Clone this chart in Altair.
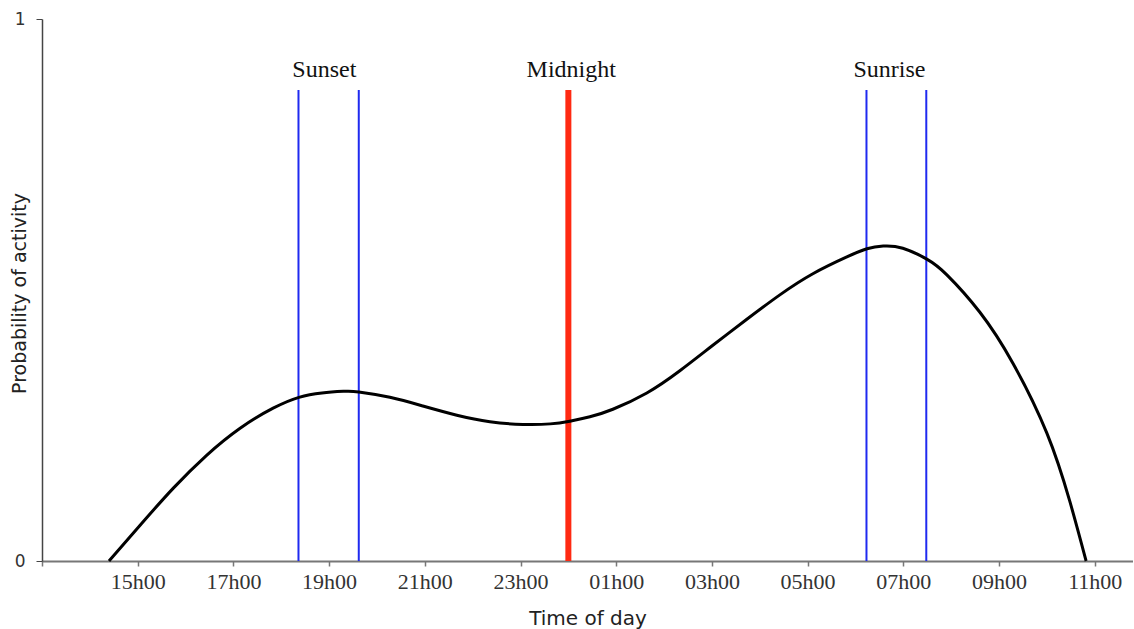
import altair as alt
import pandas as pd

# Activity curve (hours; values after midnight are 24+)
curve_hours = [14.40, 15.05, 15.74, 16.44, 17.14, 17.83, 18.37, 18.85, 19.30, 19.62,
               20.27, 20.96, 21.67, 22.36, 23.05, 23.62, 24.03, 24.45, 24.93, 25.64,
               26.33, 27.02, 27.73, 28.42, 29.11, 29.82, 30.24, 30.58, 30.99, 31.49,
               31.91, 32.60, 33.29, 34.00, 34.48, 34.82]
curve_prob = [0.000, 0.066, 0.134, 0.195, 0.245, 0.282, 0.302, 0.310, 0.313, 0.312,
              0.302, 0.286, 0.269, 0.257, 0.252, 0.253, 0.258, 0.266, 0.280, 0.310,
              0.351, 0.398, 0.446, 0.491, 0.530, 0.561, 0.576, 0.581, 0.577, 0.557,
              0.528, 0.459, 0.365, 0.236, 0.110, 0.000]

# Reference lines
sun_hours = [18.36, 19.62, 30.23, 31.48]
midnight_hours = [24.0]
line_top = 0.869

# Annotation labels
label_text = ["Sunset", "Midnight", "Sunrise"]
label_hours = [18.90, 24.06, 30.71]
label_y = 0.893

# Axis ticks
tick_values = [13, 15, 17, 19, 21, 23, 25, 27, 29, 31, 33, 35]
tick_labels = ["", "15h00", "17h00", "19h00", "21h00", "23h00",
               "01h00", "03h00", "05h00", "07h00", "09h00", "11h00"]

curve_df = pd.DataFrame({"hour": curve_hours, "prob": curve_prob})
sun_df = pd.DataFrame({"hour": sun_hours})
mid_df = pd.DataFrame({"hour": midnight_hours})
lab_df = pd.DataFrame({"hour": label_hours, "text": label_text, "y": [label_y] * 3})

vals_js = "[" + ",".join(str(v) for v in tick_values) + "]"
labs_js = "[" + ",".join("'" + s + "'" for s in tick_labels) + "]"
label_expr = f"{labs_js}[indexof({vals_js}, datum.value)]"

x_scale = alt.Scale(domain=[13, 35.8], nice=False, zero=False)
y_scale = alt.Scale(domain=[0, 1], nice=False)

x_axis = alt.Axis(
    values=tick_values, labelExpr=label_expr, grid=False,
    tickSize=5, tickColor="#777", domainColor="#777", domainWidth=2, tickWidth=1.5,
    labelPadding=22, labelBaseline="alphabetic", labelFont="Liberation Serif",
    labelFontSize=22, labelColor="#333", labelFlush=False, labelOverlap=False,
    title="Time of day", titleFont="DejaVu Sans", titleFontSize=20,
    titleFontWeight="normal", titleColor="#222", titleBaseline="alphabetic", titleY=63,
)
y_axis = alt.Axis(
    values=[0, 1], format="d", grid=False, tickSize=6, tickColor="#444",
    domainColor="#444", domainWidth=1.5, labelPadding=11, labelFont="DejaVu Sans",
    labelFontSize=17, labelColor="#333", labelFlush=False,
    title="Probability of activity", titleFont="DejaVu Sans", titleFontSize=19,
    titleFontWeight="normal", titleColor="#222", titleAngle=270,
    titleBaseline="alphabetic", titleX=-17, titleY=274,
)

curve = alt.Chart(curve_df).mark_line(
    color="black", strokeWidth=3, interpolate="natural"
).encode(
    x=alt.X("hour:Q", scale=x_scale, axis=x_axis),
    y=alt.Y("prob:Q", scale=y_scale, axis=y_axis),
)

sun_rules = alt.Chart(sun_df).mark_rule(color="#1f2af0", strokeWidth=2).encode(
    x=alt.X("hour:Q", scale=x_scale),
    y=alt.datum(0, scale=y_scale),
    y2=alt.datum(line_top),
)

mid_rule = alt.Chart(mid_df).mark_rule(color="#ff2a12", strokeWidth=6).encode(
    x=alt.X("hour:Q", scale=x_scale),
    y=alt.datum(0, scale=y_scale),
    y2=alt.datum(line_top),
)

labels = alt.Chart(lab_df).mark_text(
    font="Liberation Serif", fontSize=24, baseline="alphabetic", align="center",
    color="#111",
).encode(
    x=alt.X("hour:Q", scale=x_scale),
    y=alt.Y("y:Q", scale=y_scale),
    text="text:N",
)

chart = alt.layer(sun_rules, mid_rule, curve, labels).properties(
    width=1091, height=542,
    padding={"left": 42, "top": 19, "right": 0, "bottom": 68},
    autosize="none",
    background="white",
).configure_view(stroke=None)

chart.save("out.html", embed_options={"renderer": "svg", "actions": False})
